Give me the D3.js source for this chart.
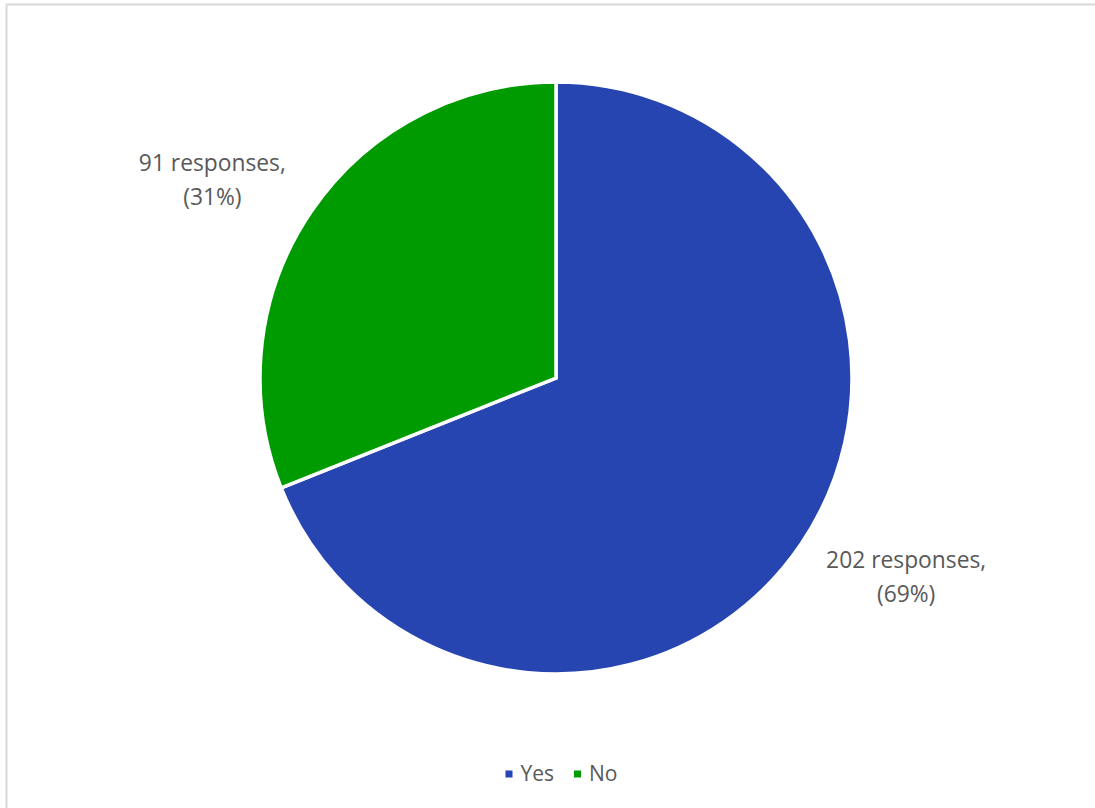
<!DOCTYPE html>
<html>
<head>
<meta charset="utf-8">
<script src="https://cdn.jsdelivr.net/npm/d3@7"></script>
<style>
  html, body { margin: 0; padding: 0; background: #fff; }
  svg { display: block; }
  text { font-family: "Open Sans", "Noto Sans", sans-serif; fill: #595959; }
</style>
</head>
<body>
<svg id="chart" width="1095" height="808"></svg>
<script>
// Survey answers
const categories = ["Yes", "No"];
const responses = [202, 91];
const colors = ["#2645b1", "#009b00"];

const W = 1095, H = 808;
const cx = 556, cy = 378, R = 296;
const svg = d3.select("#chart");

// chart area frame
svg.append("rect")
  .attr("x", 6.5).attr("y", 4.5)
  .attr("width", W + 20).attr("height", H + 20)
  .attr("fill", "#fff")
  .attr("stroke", "#d9d9d9").attr("stroke-width", 2);

const total = d3.sum(responses);
const data = categories.map((c, i) => ({ cat: c, value: responses[i], color: colors[i] }));

const pie = d3.pie().sort(null).value(d => d.value);
const arc = d3.arc().innerRadius(0).outerRadius(R);
const arcs = pie(data);

const g = svg.append("g").attr("transform", `translate(${cx},${cy})`);

g.selectAll("path.slice")
  .data(arcs)
  .join("path")
  .attr("class", "slice")
  .attr("d", arc)
  .attr("fill", d => d.data.color)
  .attr("stroke", "#fff")
  .attr("stroke-width", 3.5)
  .attr("stroke-linejoin", "miter");

// outside-end data labels
const fontSize = 22.8, lineGap = 34, pad = 25;
arcs.forEach(a => {
  const mid = (a.startAngle + a.endAngle) / 2;
  const ax = R * Math.sin(mid), ay = -R * Math.cos(mid);
  const pct = d3.format(".0%")(a.data.value / total);
  const lines = [`${a.data.value} responses,`, `(${pct})`];
  const t = g.append("text")
    .attr("font-size", fontSize)
    .attr("text-anchor", "middle");
  lines.forEach((l, i) => {
    t.append("tspan").attr("x", 0).attr("y", i * lineGap).text(l);
  });
  const bb = t.node().getBBox();
  // horizontal: box sits beside the anchor point
  let boxLeft = Math.sin(mid) >= 0 ? ax + pad : ax - pad - bb.width;
  // vertical: box hangs below on the lower half, rises above on the upper half
  let boxTop = Math.cos(mid) < 0 ? ay : ay - bb.height;
  t.attr("transform", `translate(${boxLeft - bb.x},${boxTop - bb.y})`);
});

// legend
const legend = svg.append("g");
let lx = 0;
const items = legend.selectAll("g.item").data(data).join("g").attr("class", "item");
items.append("rect").attr("width", 7).attr("height", 7).attr("y", -3.5).attr("fill", d => d.color);
items.append("text").attr("x", 15).attr("dy", "0.35em").attr("font-size", 21).text(d => d.cat);
items.each(function () {
  const w = this.getBBox().width;
  d3.select(this).attr("transform", `translate(${lx},0)`);
  lx += w + 20;
});
const legW = lx - 20;
legend.attr("transform", `translate(${(W - legW) / 2 + 14},774)`);
</script>
</body>
</html>
